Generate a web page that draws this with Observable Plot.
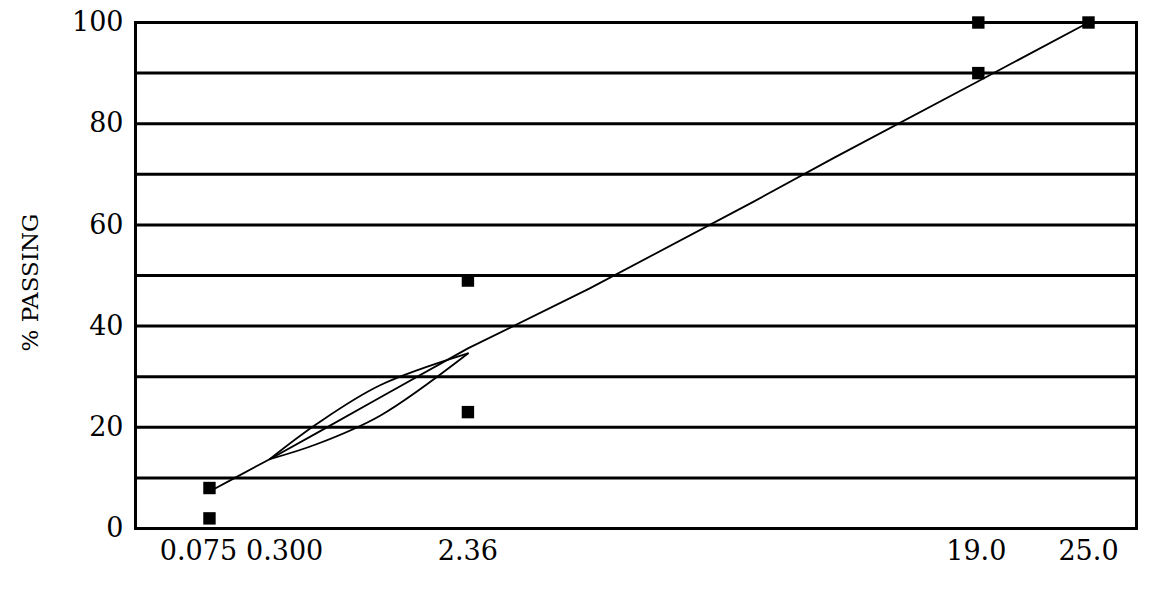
<!DOCTYPE html>
<html>
<head>
<meta charset="utf-8">
<script src="https://cdn.jsdelivr.net/npm/d3@7"></script>
<script src="https://cdn.jsdelivr.net/npm/@observablehq/plot@0.6"></script>
<style>
  html, body { margin: 0; padding: 0; background: #fff; }
</style>
</head>
<body>
<div id="chart"></div>
<script>
// Sieve sizes (mm) for the maximum density line
const sieves = [0.075, 0.15, 0.3, 0.6, 1.18, 2.36, 4.75, 9.5, 12.5, 19, 25];
const maxDensity = [7.3, 10.0, 13.7, 18.9, 25.9, 35.6, 47.4, 64.6, 73.3, 88.4, 100];

// Restricted zone
const zoneSieves = [0.3, 0.6, 1.18, 2.36];
const zoneLower = [13.7, 16.7, 22.3, 34.6];
const zoneUpper = [13.7, 20.7, 28.3, 34.6];

// Control points
const controlSize = [0.075, 0.075, 2.36, 2.36, 19, 19, 25];
const controlPass = [2, 8, 23, 49, 90, 100, 100];

// Axis ticks
const xTicks = [0.075, 0.3, 2.36, 19, 25];
const xTickLabels = ["0.075", "0.300", "2.36", "19.0", "25.0"];
const yTicks = [0, 20, 40, 60, 80, 100];
const gridLines = [0, 10, 20, 30, 40, 50, 60, 70, 80, 90, 100];

const mdl = sieves.map((s, i) => ({size: s, pass: maxDensity[i]}));
const lower = zoneSieves.map((s, i) => ({size: s, pass: zoneLower[i]}));
const upper = zoneSieves.map((s, i) => ({size: s, pass: zoneUpper[i]}));
const control = controlSize.map((s, i) => ({size: s, pass: controlPass[i]}));

const labelShift = [-11, 15, 0, -2, 0];
const xAxes = xTicks.map((t, i) => Plot.axisX({
  ticks: [t], tickFormat: () => xTickLabels[i], tickSize: 0, tickPadding: 12,
  label: null, fontSize: 27, dx: labelShift[i]
}));

const chart = Plot.plot({
  width: 1162,
  height: 594,
  marginLeft: 135,
  marginRight: 26,
  marginTop: 22,
  marginBottom: 66,
  style: {fontFamily: "DejaVu Serif", fontSize: "27px", color: "#000", background: "#fff"},
  x: {type: "pow", exponent: 0.45, domain: [0, 25], range: [139.5, 1088]},
  y: {domain: [0, 100]},
  marks: [
    Plot.ruleY(gridLines, {stroke: "#000", strokeWidth: 3}),
    Plot.frame({stroke: "#000", strokeWidth: 3}),
    ...xAxes,
    Plot.axisY({ticks: yTicks, tickSize: 0, tickPadding: 12, label: null, fontSize: 27}),
    Plot.text(["% PASSING"], {frameAnchor: "left", textAnchor: "middle", dx: -105, dy: 7, rotate: -90, fontSize: 23, fontFamily: "DejaVu Serif", fill: "#000"}),
    Plot.line(mdl, {x: "size", y: "pass", stroke: "#000", strokeWidth: 1.8}),
    Plot.line(lower, {x: "size", y: "pass", stroke: "#000", strokeWidth: 1.8, curve: "catmull-rom"}),
    Plot.line(upper, {x: "size", y: "pass", stroke: "#000", strokeWidth: 1.8, curve: "catmull-rom"}),
    Plot.dot(control, {x: "size", y: "pass", symbol: "square", r: 7, fill: "#000", stroke: "none"})
  ]
});
document.getElementById("chart").appendChild(chart);
</script>
</body>
</html>
